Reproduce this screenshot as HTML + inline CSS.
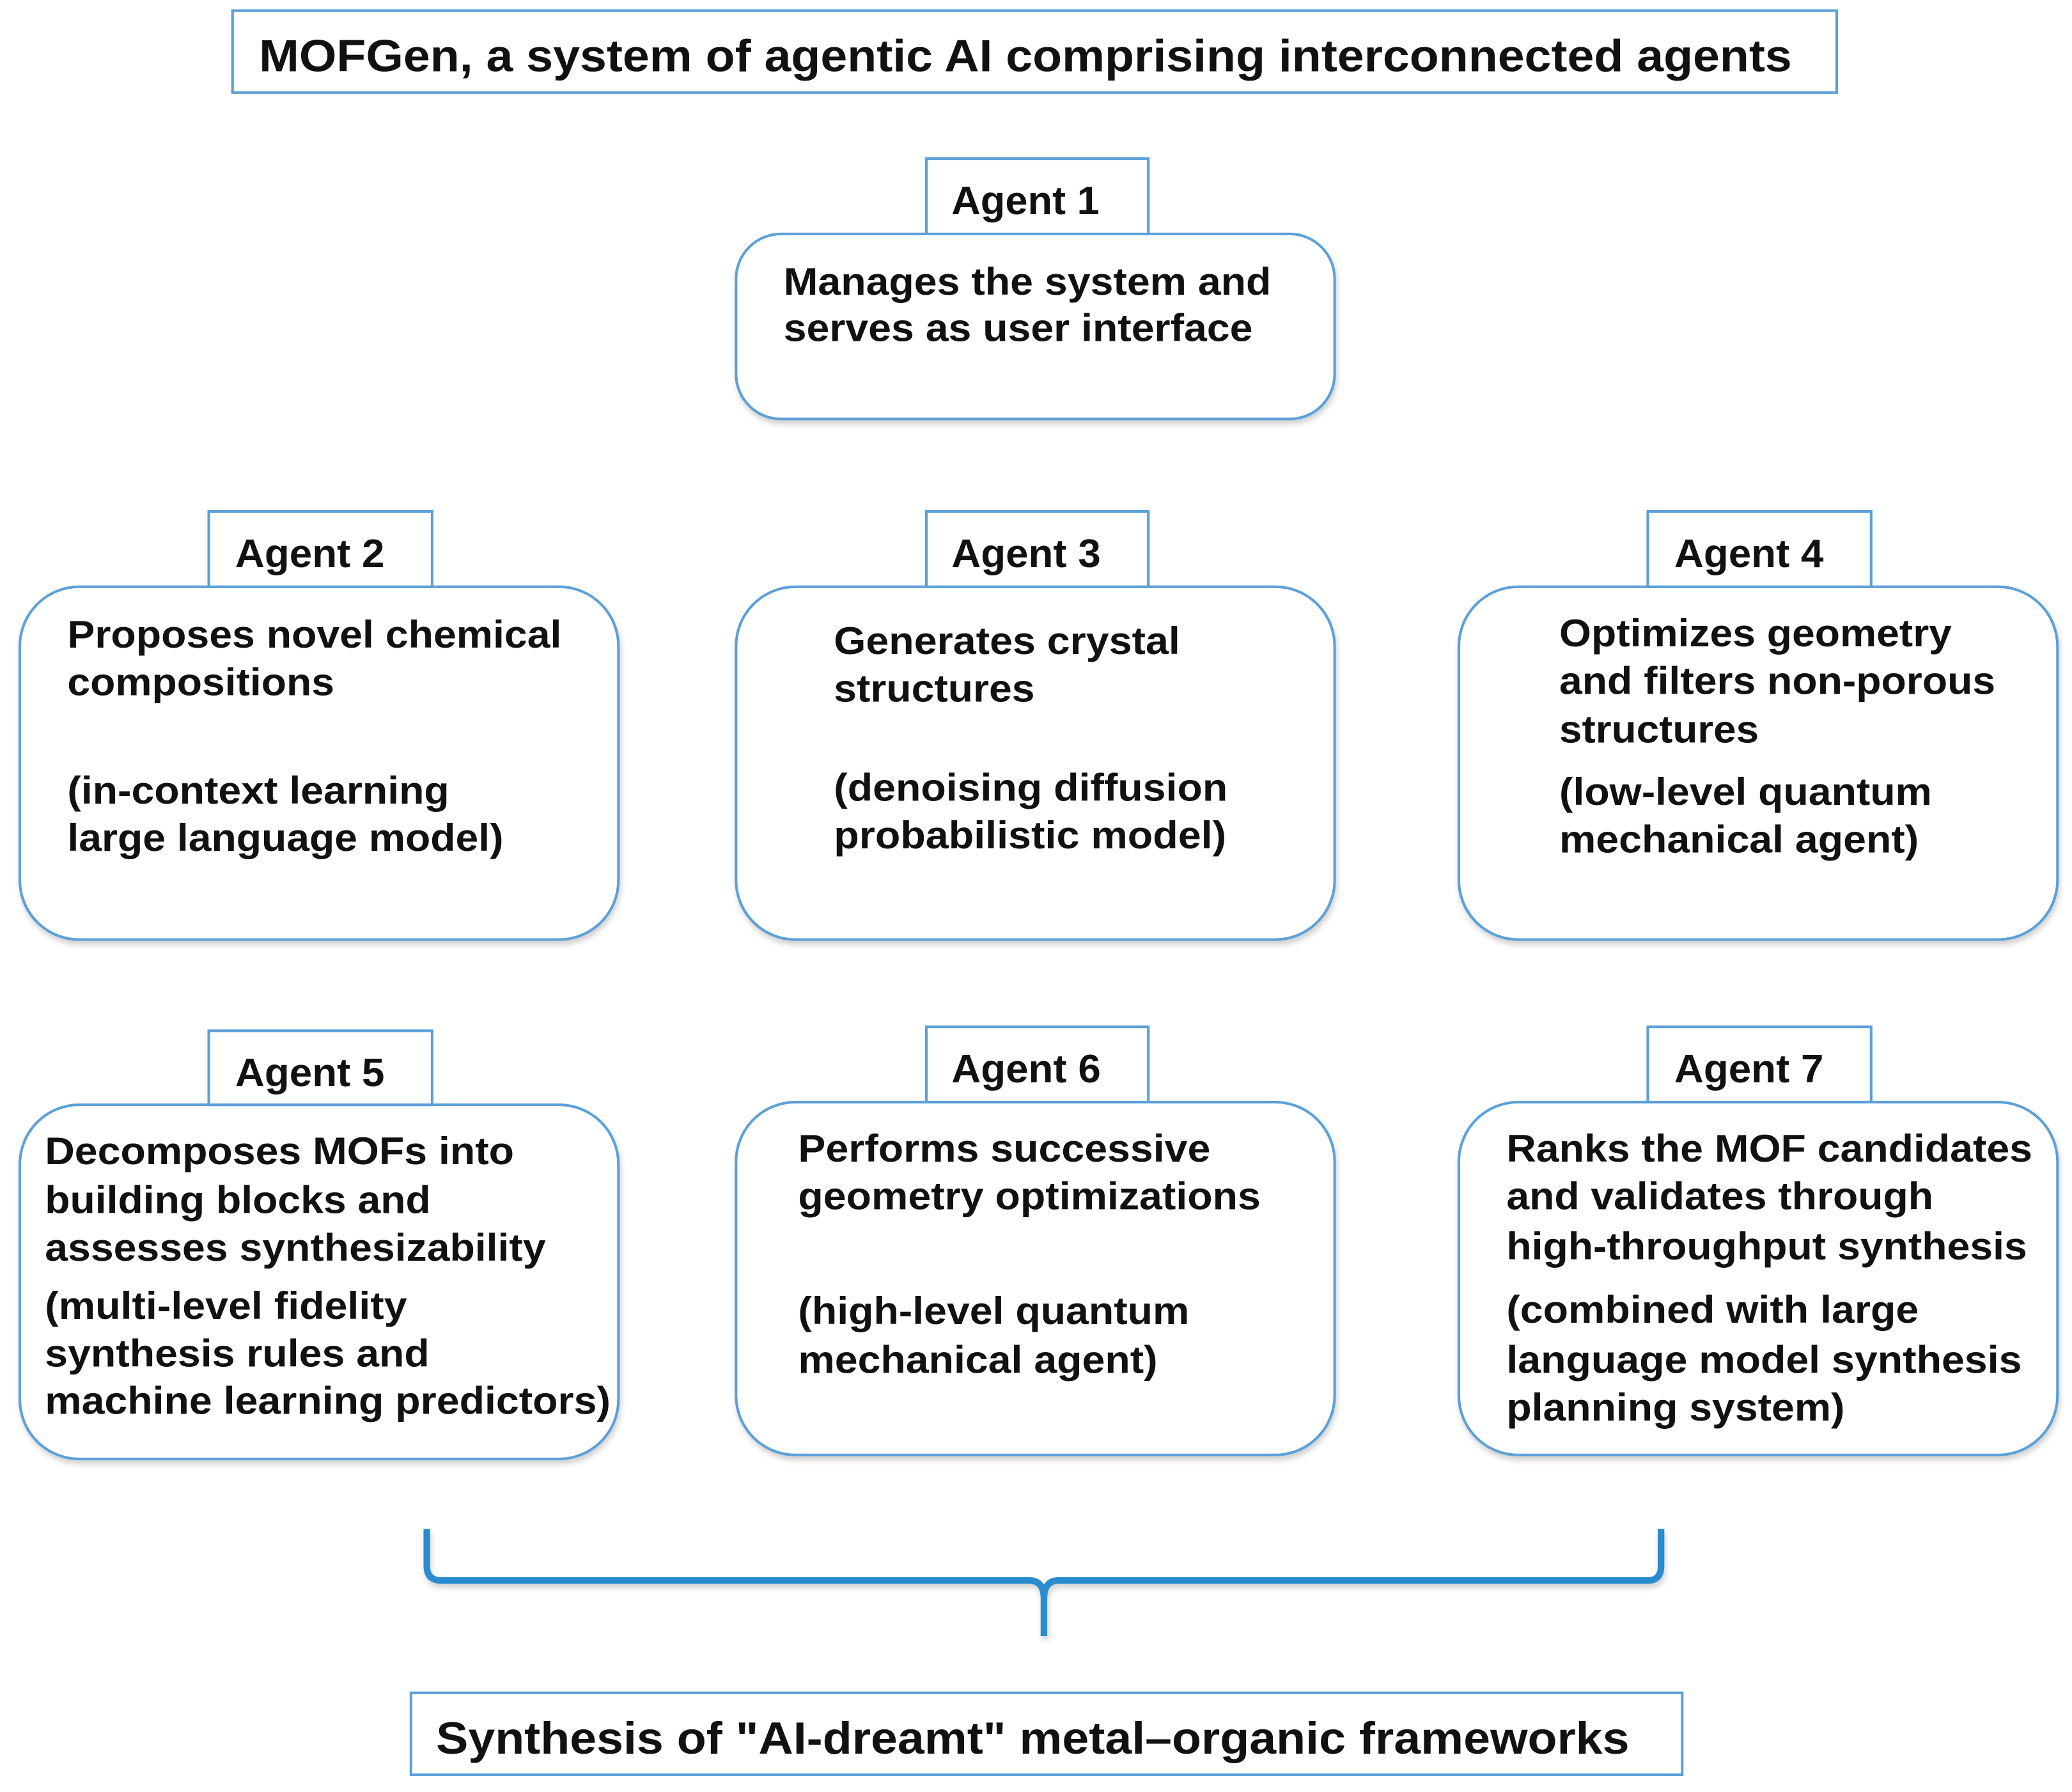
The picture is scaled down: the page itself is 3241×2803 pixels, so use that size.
<!DOCTYPE html>
<html><head><meta charset="utf-8"><style>
html,body{margin:0;padding:0;background:#fff;}
svg{display:block;}
text{font-family:"Liberation Sans",Arial,sans-serif;font-weight:bold;fill:#111;}
</style></head><body>
<svg width="3241" height="2803" viewBox="0 0 1568 1356" xmlns="http://www.w3.org/2000/svg">
<defs>
<filter id="sh" x="-5%" y="-5%" width="110%" height="115%"><feDropShadow dx="1" dy="3" stdDeviation="2" flood-color="#000" flood-opacity="0.18"/></filter>
</defs>
<g fill="#fff" stroke="#5ba0d8" stroke-width="2">
<rect x="176" y="8" width="1214" height="62"/>
<rect x="311" y="1281" width="962" height="62"/>
<g filter="url(#sh)">
<rect x="557" y="177" width="453" height="140" rx="34"/>
<rect x="15" y="444" width="453" height="267" rx="45"/>
<rect x="557" y="444" width="453" height="267" rx="45"/>
<rect x="1104" y="444" width="453" height="267" rx="45"/>
<rect x="15" y="836" width="453" height="268" rx="45"/>
<rect x="557" y="834" width="453" height="267" rx="45"/>
<rect x="1104" y="834" width="453" height="267" rx="45"/>
</g>
<rect x="701" y="120" width="168" height="57"/>
<rect x="158" y="387" width="169" height="57"/>
<rect x="701" y="387" width="168" height="57"/>
<rect x="1247" y="387" width="169" height="57"/>
<rect x="158" y="780" width="169" height="56"/>
<rect x="701" y="777" width="168" height="57"/>
<rect x="1247" y="777" width="169" height="57"/>
</g>
<path d="M323 1157 L323 1185 Q323 1196 334 1196 L779 1196 Q790 1196 790 1210 L790 1238 M790 1210 Q790 1196 801 1196 L1247 1196 Q1257 1196 1257 1185 L1257 1157" fill="none" stroke="#2b8ccf" stroke-width="5" filter="url(#sh)"/>

<text x="196" y="54" font-size="34" textLength="1160" lengthAdjust="spacingAndGlyphs">MOFGen, a system of agentic AI comprising interconnected agents</text>
<text x="330" y="1327" font-size="34" textLength="903" lengthAdjust="spacingAndGlyphs">Synthesis of "AI-dreamt" metal–organic frameworks</text>

<g font-size="30">
<text x="720" y="162" textLength="112" lengthAdjust="spacingAndGlyphs">Agent 1</text>
<text x="178" y="429" textLength="113" lengthAdjust="spacingAndGlyphs">Agent 2</text>
<text x="720" y="429" textLength="113" lengthAdjust="spacingAndGlyphs">Agent 3</text>
<text x="1267" y="429" textLength="113" lengthAdjust="spacingAndGlyphs">Agent 4</text>
<text x="178" y="822" textLength="113" lengthAdjust="spacingAndGlyphs">Agent 5</text>
<text x="720" y="819" textLength="113" lengthAdjust="spacingAndGlyphs">Agent 6</text>
<text x="1267" y="819" textLength="113" lengthAdjust="spacingAndGlyphs">Agent 7</text>
</g>

<g font-size="29" lengthAdjust="spacingAndGlyphs">
<text x="593" y="223" textLength="369" lengthAdjust="spacingAndGlyphs">Manages the system and</text>
<text x="593" y="258" textLength="355" lengthAdjust="spacingAndGlyphs">serves as user interface</text>

<text x="51" y="490" textLength="374" lengthAdjust="spacingAndGlyphs">Proposes novel chemical</text>
<text x="51" y="526" textLength="202" lengthAdjust="spacingAndGlyphs">compositions</text>
<text x="51" y="608" textLength="289" lengthAdjust="spacingAndGlyphs">(in-context learning</text>
<text x="51" y="644" textLength="330" lengthAdjust="spacingAndGlyphs">large language model)</text>

<text x="631" y="495" textLength="262" lengthAdjust="spacingAndGlyphs">Generates crystal</text>
<text x="631" y="531" textLength="152" lengthAdjust="spacingAndGlyphs">structures</text>
<text x="631" y="606" textLength="298" lengthAdjust="spacingAndGlyphs">(denoising diffusion</text>
<text x="631" y="642" textLength="297" lengthAdjust="spacingAndGlyphs">probabilistic model)</text>

<text x="1180" y="489" textLength="297" lengthAdjust="spacingAndGlyphs">Optimizes geometry</text>
<text x="1180" y="525" textLength="330" lengthAdjust="spacingAndGlyphs">and filters non-porous</text>
<text x="1180" y="562" textLength="151" lengthAdjust="spacingAndGlyphs">structures</text>
<text x="1180" y="609" textLength="282" lengthAdjust="spacingAndGlyphs">(low-level quantum</text>
<text x="1180" y="645" textLength="272" lengthAdjust="spacingAndGlyphs">mechanical agent)</text>

<text x="34" y="881" textLength="355" lengthAdjust="spacingAndGlyphs">Decomposes MOFs into</text>
<text x="34" y="918" textLength="292" lengthAdjust="spacingAndGlyphs">building blocks and</text>
<text x="34" y="954" textLength="379" lengthAdjust="spacingAndGlyphs">assesses synthesizability</text>
<text x="34" y="998" textLength="274" lengthAdjust="spacingAndGlyphs">(multi-level fidelity</text>
<text x="34" y="1034" textLength="291" lengthAdjust="spacingAndGlyphs">synthesis rules and</text>
<text x="34" y="1070" textLength="428" lengthAdjust="spacingAndGlyphs">machine learning predictors)</text>

<text x="604" y="879" textLength="312" lengthAdjust="spacingAndGlyphs">Performs successive</text>
<text x="604" y="915" textLength="350" lengthAdjust="spacingAndGlyphs">geometry optimizations</text>
<text x="604" y="1002" textLength="296" lengthAdjust="spacingAndGlyphs">(high-level quantum</text>
<text x="604" y="1039" textLength="272" lengthAdjust="spacingAndGlyphs">mechanical agent)</text>

<text x="1140" y="879" textLength="398" lengthAdjust="spacingAndGlyphs">Ranks the MOF candidates</text>
<text x="1140" y="915" textLength="323" lengthAdjust="spacingAndGlyphs">and validates through</text>
<text x="1140" y="953" textLength="394" lengthAdjust="spacingAndGlyphs">high-throughput synthesis</text>
<text x="1140" y="1001" textLength="312" lengthAdjust="spacingAndGlyphs">(combined with large</text>
<text x="1140" y="1039" textLength="390" lengthAdjust="spacingAndGlyphs">language model synthesis</text>
<text x="1140" y="1075" textLength="256" lengthAdjust="spacingAndGlyphs">planning system)</text>
</g>
</svg>
</body></html>
